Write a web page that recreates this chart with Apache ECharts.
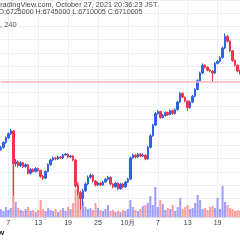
<!DOCTYPE html>
<html><head><meta charset="utf-8">
<script src="https://cdn.jsdelivr.net/npm/echarts@6/dist/echarts.min.js"></script>
<style>html,body{margin:0;padding:0;background:#fff}#c{width:240px;height:240px}</style>
</head><body><div id="c"></div>
<script>
// 12h candles, BTC/JPY
const openP = [5420000,5463000,5555000,5646000,5719000,5774000,5153000,5190000,5117000,5172000,5099000,5135000,4971000,5044000,5007000,5062000,5026000,4916000,4880000,5007000,5135000,5226000,5263000,5245000,5281000,5263000,5318000,5336000,5281000,5299000,5226000,4734000,4606000,4496000,4642000,4770000,4898000,4934000,4825000,4752000,4788000,4752000,4807000,4861000,4898000,4770000,4715000,4788000,4679000,4770000,4715000,4807000,4861000,5263000,5318000,5281000,5336000,5299000,5318000,5245000,5463000,5682000,5883000,6102000,6139000,6029000,6066000,6120000,6084000,6157000,6102000,6175000,6321000,6485000,6412000,6339000,6212000,6321000,6431000,6558000,6723000,6869000,7015000,6978000,6923000,6905000,6869000,7051000,7088000,7161000,7343000,7562000,7471000,7288000,7106000,7015000,6905000];
const closeP = [5463000,5555000,5646000,5719000,5774000,5153000,5190000,5117000,5172000,5099000,5135000,4971000,5044000,5007000,5062000,5026000,4916000,4880000,5007000,5135000,5226000,5263000,5245000,5281000,5263000,5318000,5336000,5281000,5299000,5226000,4734000,4606000,4496000,4642000,4770000,4898000,4934000,4825000,4752000,4788000,4752000,4807000,4861000,4898000,4770000,4715000,4788000,4679000,4770000,4715000,4807000,4861000,5263000,5318000,5281000,5336000,5299000,5318000,5245000,5463000,5682000,5883000,6102000,6139000,6029000,6066000,6120000,6084000,6157000,6102000,6175000,6321000,6485000,6412000,6339000,6212000,6321000,6431000,6558000,6723000,6869000,7015000,6978000,6923000,6905000,6869000,7051000,7088000,7161000,7343000,7562000,7471000,7288000,7106000,7015000,6905000,6869000];
const highP = [5490000,5580000,5670000,5745000,5810000,5790000,5240000,5220000,5200000,5190000,5160000,5150000,5070000,5065000,5090000,5080000,5040000,4940000,5030000,5160000,5250000,5290000,5285000,5305000,5300000,5340000,5360000,5350000,5325000,5315000,5240000,4780000,4640000,4680000,4800000,4930000,4965000,4950000,4845000,4815000,4810000,4830000,4885000,4925000,4910000,4790000,4810000,4800000,4795000,4790000,4830000,4890000,5290000,5345000,5335000,5360000,5350000,5345000,5330000,5490000,5710000,5910000,6130000,6170000,6155000,6095000,6145000,6140000,6180000,6175000,6200000,6345000,6510000,6500000,6425000,6350000,6345000,6455000,6580000,6750000,6895000,7050000,7035000,6995000,6945000,6925000,7075000,7115000,7185000,7370000,7617000,7590000,7490000,7300000,7125000,7030000,6930000];
const lowP = [5400000,5440000,5530000,5620000,5700000,4551000,5100000,5080000,5090000,5070000,5075000,4950000,4950000,4985000,4990000,5000000,4890000,4850000,4865000,4990000,5115000,5205000,5220000,5225000,5240000,5245000,5300000,5260000,5260000,5200000,4700000,4560000,4277000,4369000,4620000,4750000,4870000,4800000,4725000,4730000,4730000,4735000,4790000,4840000,4745000,4690000,4700000,4650000,4660000,4690000,4700000,4790000,4845000,5240000,5255000,5265000,5275000,5280000,5220000,5230000,5445000,5665000,5865000,6080000,6005000,6010000,6045000,6060000,6065000,6080000,6085000,6160000,6300000,6390000,6315000,6150000,6195000,6300000,6410000,6540000,6700000,6850000,6955000,6900000,6880000,6704000,6850000,7030000,7065000,7140000,7320000,7445000,7260000,7080000,6990000,6880000,6840000];
const volume = [400,300,500,350,450,2850,750,450,350,300,400,500,300,350,250,350,850,400,300,450,350,300,400,250,350,450,300,500,400,700,1400,1750,1250,750,500,400,450,350,700,450,350,300,400,600,300,350,250,300,250,350,300,400,850,500,350,300,400,550,600,700,1050,600,1500,500,850,650,350,450,400,600,300,500,950,400,500,600,400,450,700,1100,850,400,450,350,500,550,450,950,400,1550,750,600,450,400,300,350,300];
const lastPrice = 6710005;
const tickDates = ['2021-09-07 00:00','2021-09-13 00:00','2021-09-19 00:00','2021-09-25 00:00','2021-10-01 00:00','2021-10-07 00:00','2021-10-13 00:00','2021-10-19 00:00'];
const tickLabels = ['7','13','19','25','10月','7','13','19'];
const headerLine1 = 'TradingView.com, October 27, 2021 20:36:23 JST';
const headerLine2 = 'O:6725000 H:6745000 L:6710005 C:6710005';
const symbolText = ', 240';

const categories = [];
{
  let t = Date.UTC(2021, 8, 5, 12, 0);
  const p = n => (n < 10 ? '0' : '') + n;
  for (let i = 0; i < openP.length; i++) {
    const d = new Date(t);
    categories.push(d.getUTCFullYear() + '-' + p(d.getUTCMonth() + 1) + '-' + p(d.getUTCDate()) + ' ' + p(d.getUTCHours()) + ':' + p(d.getUTCMinutes()));
    t += 12 * 3600 * 1000;
  }
}
const UP = '#2f63e0', DOWN = '#f2364a';
const candles = openP.map((o, i) => [o, closeP[i], lowP[i], highP[i]]);
const volData = volume.map((v, i) => ({
  value: v,
  itemStyle: { color: closeP[i] >= openP[i] ? 'rgba(98,98,250,0.6)' : 'rgba(250,95,95,0.6)' }
}));
const isTick = (idx, val) => tickDates.indexOf(val) >= 0;
const FONT = 'Liberation Sans, Arial, sans-serif';

const chart = echarts.init(document.getElementById('c'), null, { renderer: 'canvas' });
chart.setOption({
  animation: false,
  backgroundColor: '#ffffff',
  grid: [
    { left: 0.8, width: 240, top: -7.7, height: 219.2 },
    { left: 0.8, width: 240, top: 0, height: 217 }
  ],
  xAxis: [
    { type: 'category', gridIndex: 0, data: categories, boundaryGap: false,
      axisLine: { show: false }, axisTick: { show: false }, axisLabel: { show: false }, splitLine: { show: false } },
    { type: 'category', gridIndex: 1, data: categories, boundaryGap: false,
      axisLine: { show: true, lineStyle: { color: '#d6dae2', width: 1 } },
      axisTick: { show: false },
      axisLabel: { interval: isTick, margin: 3, fontSize: 7, color: '#3a3a3a', fontFamily: FONT,
        formatter: v => tickLabels[tickDates.indexOf(v)] },
      splitLine: { show: true, interval: isTick, lineStyle: { color: '#ebf0f8', width: 1 } } }
  ],
  yAxis: [
    { type: 'value', gridIndex: 0, min: 4250000, max: 8250000, interval: 250000, position: 'right',
      axisLine: { show: false }, axisTick: { show: false }, axisLabel: { show: false },
      splitLine: { show: true, lineStyle: { color: '#ebf0f8', width: 1 } } },
    { type: 'value', gridIndex: 1, min: 0, max: 10850,
      axisLine: { show: false }, axisTick: { show: false }, axisLabel: { show: false }, splitLine: { show: false } }
  ],
  series: [
    { type: 'bar', xAxisIndex: 1, yAxisIndex: 1, data: volData, barWidth: 2.1, z: 1 },
    { type: 'candlestick', xAxisIndex: 0, yAxisIndex: 0, data: candles, barWidth: 2, z: 3,
      itemStyle: { color: UP, color0: DOWN, borderColor: UP, borderColor0: DOWN, borderWidth: 1 },
      markLine: { silent: true, symbol: ['none', 'none'], label: { show: false },
        lineStyle: { color: '#f6b4b8', width: 1.5, type: 'solid' },
        data: [{ yAxis: lastPrice }] } }
  ],
  graphic: [
    { type: 'text', left: -4, top: 1, z: 10, style: { text: headerLine1, fontSize: 7.3, fontFamily: FONT, fill: '#4a4a4a' } },
    { type: 'text', left: -1.5, top: 9, z: 10, style: { text: headerLine2, fontSize: 7.1, fontFamily: FONT, fill: '#4a4a4a' } },
    { type: 'text', left: 0, top: 21, z: 10, style: { text: symbolText, fontSize: 7.5, fontFamily: FONT, fill: '#5a5a5a' } },
    { type: 'text', left: -2, top: 229, z: 10, style: { text: 'w', fontSize: 8, fontWeight: 'bold', fontFamily: FONT, fill: '#222' } }
  ]
});
</script></body></html>
